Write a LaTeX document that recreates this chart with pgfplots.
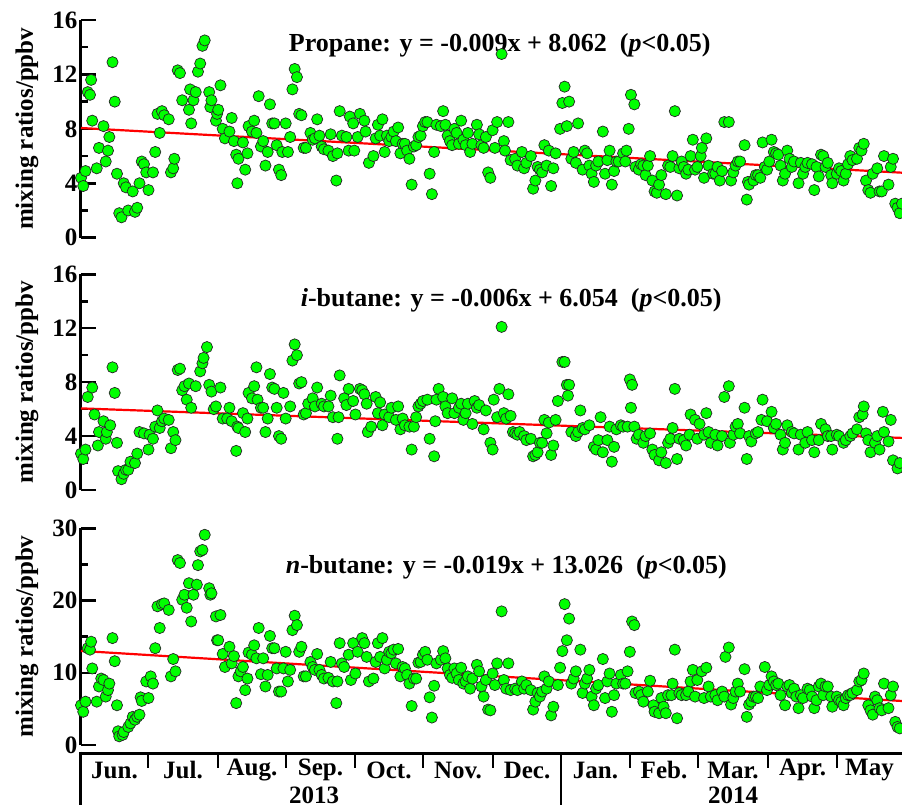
\documentclass[border=0pt]{standalone}
\usepackage{fontspec}
\setmainfont{Liberation Serif}
\usepackage{pgfplots}
\usepackage{pgfplotstable}
\pgfplotsset{compat=1.18}

\pgfplotstableread[row sep=\\]{
day val\\
0 4.4\\ 1 3.8\\ 2 4.9\\ 3 10.7\\ 4 10.5\\ 4.5 11.6\\ 5 8.6\\ 7 5.1\\ 8 6.6\\ 10 8.2\\ 11 5.6\\ 12 6.4\\ 12.6 7.4\\ 14 12.9\\ 15 10.0\\ 16 4.7\\ 17 1.8\\ 18 1.5\\ 19 4.0\\ 20 3.7\\ 21 2.0\\ 23 3.4\\ 24 1.9\\ 25 2.2\\ 26 4.0\\ 27 5.6\\ 28 5.4\\ 29 4.8\\ 30 3.5\\ 32 4.8\\ 33 6.3\\ 34 9.1\\ 35 7.7\\ 36 9.3\\ 37 9.0\\ 39 8.7\\ 40 4.8\\ 41 5.1\\ 41.5 5.8\\ 43 12.3\\ 44 12.1\\ 45 10.1\\ 48 9.4\\ 48.5 10.9\\ 49 8.4\\ 50 10.1\\ 51 10.7\\ 52 12.2\\ 53 12.8\\ 54 14.1\\ 55 14.5\\ 57 10.7\\ 57.5 9.6\\ 58 10.1\\ 60 8.6\\ 60.5 9.1\\ 61 9.4\\ 62 11.2\\ 63 8.0\\ 64 7.3\\ 66 7.8\\ 67 8.8\\ 68 7.1\\ 69 6.1\\ 69.5 4.0\\ 70 5.8\\ 72 7.0\\ 73 5.0\\ 74 6.2\\ 74.5 8.2\\ 76 7.8\\ 77 8.6\\ 78 7.7\\ 79 10.4\\ 80 6.7\\ 81 7.1\\ 82 5.3\\ 83 6.3\\ 84 9.8\\ 85 8.4\\ 86 8.4\\ 87 6.8\\ 88 5.0\\ 89 4.6\\ 89.5 6.3\\ 91 8.4\\ 92 6.3\\ 93 7.4\\ 94 10.9\\ 95 12.4\\ 96 11.8\\ 97 9.1\\ 98 9.0\\ 99 6.6\\ 100 6.6\\ 102 7.7\\ 103 7.2\\ 104 7.3\\ 105 8.7\\ 106 7.5\\ 107 6.7\\ 108 6.5\\ 110 6.4\\ 111 7.6\\ 112 6.0\\ 113.5 4.2\\ 114 6.2\\ 115 9.3\\ 116 7.5\\ 118 7.4\\ 119 6.4\\ 119.5 8.9\\ 121 8.4\\
121.5 6.4\\ 123 7.4\\ 124 9.1\\ 126 8.6\\ 126.5 7.8\\ 128 5.5\\ 130 6.0\\ 131 7.3\\ 132 8.3\\ 133 7.5\\ 134 8.7\\ 135 6.3\\ 136 7.5\\ 137 7.1\\ 138 7.4\\ 139 7.8\\ 140 7.1\\ 141 8.1\\ 142 6.2\\ 143 6.9\\ 144 6.9\\ 145 6.4\\ 146 5.8\\ 147 3.9\\ 148 6.7\\ 149 6.8\\ 150 7.4\\ 151 7.5\\ 152 8.2\\ 153 8.5\\ 154 8.5\\ 155 4.7\\ 156 3.2\\ 157 6.3\\ 158 8.3\\ 160 8.2\\ 161 9.3\\ 162 8.3\\ 163 7.5\\ 164 7.1\\ 165 6.8\\ 166 8.0\\ 167 7.7\\ 168 6.9\\ 169 8.6\\ 170 7.2\\ 171 6.8\\ 172 7.7\\ 173 6.3\\ 174 6.9\\ 176 8.3\\ 177 7.6\\ 178 6.8\\ 179 6.6\\ 180 7.4\\ 181 4.8\\ 182 4.4\\ 183 7.9\\ 184 6.6\\ 185 8.5\\ 187 13.5\\ 188 7.1\\ 188.5 6.4\\ 190 8.5\\ 191 5.7\\ 193 5.8\\ 194 5.3\\ 196 6.3\\ 197 5.1\\ 198 5.5\\ 200 6.0\\ 201 3.6\\ 202 4.2\\ 203 5.2\\ 204 5.0\\ 205 4.8\\ 206 6.8\\ 207 5.3\\ 208 6.4\\ 209 3.8\\ 210 5.1\\ 211 6.2\\ 213 8.0\\ 214 9.9\\ 215 11.1\\ 216 8.2\\ 217 10.0\\ 218 5.8\\ 219 6.3\\ 220 5.5\\ 221 8.4\\ 223 5.0\\ 224 6.4\\ 225 6.2\\ 226 5.3\\ 227 4.7\\ 228 4.1\\ 229 5.3\\ 230 5.6\\ 232 7.8\\ 233 4.7\\ 234 5.7\\ 235 6.4\\ 236 3.9\\ 237 4.9\\ 238 5.6\\ 239 5.6\\
241 6.2\\ 242 5.6\\ 242.5 6.4\\ 243.5 8.0\\ 244.5 10.5\\ 246 9.8\\ 246.5 5.2\\ 248 5.0\\ 249 5.4\\ 250 5.3\\ 251 4.6\\ 252 5.3\\ 253 6.0\\ 254 4.2\\ 255 3.4\\ 256 3.3\\ 257 3.9\\ 258 4.6\\ 260 3.2\\ 261 5.3\\ 262 5.2\\ 263 6.0\\ 264 9.3\\ 265 3.1\\ 266 5.1\\ 267 5.6\\ 268 5.2\\ 269 4.7\\ 270 5.0\\ 271 6.0\\ 272 7.2\\ 273 5.0\\ 274 5.2\\ 275.5 6.0\\ 276 6.6\\ 277 4.4\\ 278 7.3\\ 279 5.3\\ 281 4.7\\ 282 4.7\\ 283 5.2\\ 284 4.2\\ 285 4.9\\ 286 8.5\\ 288 8.5\\ 289 4.2\\ 290 4.8\\ 291 5.3\\ 292 5.6\\ 293 5.6\\ 295 6.8\\ 296 2.8\\ 296.5 4.1\\ 297 3.9\\ 299 4.2\\ 300 4.6\\ 301 4.6\\ 302 4.4\\ 303 7.0\\ 304 5.2\\ 305 5.0\\ 306 5.6\\ 307 7.2\\ 308 6.3\\ 309 6.2\\ 310 6.1\\ 311 5.3\\ 312 4.2\\ 313 4.7\\ 314 6.4\\ 315 5.8\\ 316 5.2\\ 317 5.6\\ 319 4.0\\ 320 5.5\\ 321 4.7\\ 322 5.2\\ 323 5.5\\ 325 5.4\\ 326 3.5\\ 327 5.2\\ 328 4.5\\ 329 6.1\\ 330 6.0\\ 331 5.2\\ 332 5.5\\ 333.5 4.6\\ 334 4.0\\ 336 4.7\\ 337 5.1\\ 338 4.9\\ 339 4.2\\ 340 4.7\\ 341 5.4\\ 342 6.0\\ 343 5.7\\ 345 5.8\\ 346 6.6\\ 347 6.4\\ 348 6.9\\ 349 4.2\\ 350 3.5\\ 351 3.3\\ 352 4.7\\ 354 5.1\\ 355 3.4\\ 356 3.4\\ 357 6.0\\ 359 3.9\\ 360 5.2\\ 361 5.8\\ 362 2.5\\ 363 2.2\\ 364 1.8\\ 365 2.5\\
}\propane

\pgfplotstableread[row sep=\\]{
day val\\
0 2.7\\ 1 2.3\\ 2 3.0\\ 3 6.9\\ 5 7.6\\ 6 5.6\\ 7.5 3.3\\ 8 4.3\\ 10 5.1\\ 11 3.8\\ 11.5 4.3\\ 13 4.8\\ 14 9.1\\ 15 7.2\\ 16 3.5\\ 16.5 1.4\\ 18 0.8\\ 19 1.2\\ 20 1.5\\ 21 1.5\\ 22 2.1\\ 24 2.0\\ 25 2.7\\ 26 4.3\\ 28 4.2\\ 30 3.0\\ 30.5 4.1\\ 32 3.8\\ 33 4.7\\ 34 5.9\\ 35 4.6\\ 36 5.1\\ 37 5.3\\ 39 5.2\\ 40 3.1\\ 41 4.3\\ 42 3.7\\ 43 8.9\\ 44 9.0\\ 45 7.4\\ 46 7.7\\ 47 6.7\\ 48 7.9\\ 49 6.1\\ 51 7.7\\ 53 8.8\\ 54 9.4\\ 54.5 9.8\\ 56 10.6\\ 57 7.8\\ 58 7.3\\ 59 6.0\\ 60 6.2\\ 62 7.6\\ 63 5.3\\ 65 5.3\\ 66 6.1\\ 67 5.1\\ 69 2.9\\ 69.5 4.7\\ 70 4.6\\ 72 5.7\\ 73 4.3\\ 74 5.3\\ 74.5 7.2\\ 76 6.8\\ 77 7.7\\ 78 9.1\\ 78.5 6.7\\ 80 6.1\\ 81 6.1\\ 82 4.3\\ 83 5.3\\ 84 8.6\\ 85 7.6\\ 86 7.5\\ 87 6.1\\ 88 4.0\\ 89 3.8\\ 90 7.2\\ 91 5.3\\ 93 6.2\\ 94 9.6\\ 95 10.8\\ 96 10.0\\ 97 7.9\\ 98 8.0\\ 99 5.6\\ 100 5.7\\ 101 6.4\\ 103 6.8\\ 104 6.2\\ 105 7.6\\ 107 6.4\\ 108 6.2\\ 110 6.2\\ 111 7.0\\ 112 5.4\\ 114 3.8\\ 114.5 5.4\\ 115 8.5\\ 117 6.8\\ 118 6.3\\ 119 7.5\\ 121 6.6\\ 122 5.6\\ 124 7.5\\ 125 7.4\\ 126 7.1\\ 127 6.4\\ 127.5 4.3\\ 129 4.7\\ 131 6.9\\ 132 5.7\\ 133 6.5\\ 134 4.8\\ 135 5.6\\ 137 5.4\\ 138 6.1\\ 140 5.2\\ 141 6.2\\ 142 4.5\\ 143 5.3\\ 144 4.8\\ 146 4.7\\ 147 3.0\\ 148 4.7\\ 149 5.4\\ 150 6.2\\ 151 6.4\\ 152 6.6\\ 154 6.7\\ 155 3.8\\ 157 2.5\\ 157.5 5.1\\ 158 6.7\\ 159 7.5\\ 161 6.9\\ 162 6.2\\ 163 5.7\\
165 6.8\\ 166 5.7\\ 168 6.1\\ 169 6.4\\ 170 5.2\\ 171 5.7\\ 172 6.4\\ 174 4.9\\ 175 6.6\\ 176 6.1\\ 177 6.3\\ 179 4.5\\ 180 5.9\\ 182 3.5\\ 183 3.0\\ 183.5 6.7\\ 185 5.4\\ 186 7.5\\ 187 12.1\\ 188 5.7\\ 189 5.3\\ 190 7.1\\ 191 5.5\\ 192 4.3\\ 193 4.2\\ 194 4.1\\ 195 4.3\\ 197 4.0\\ 198 3.7\\ 200 3.8\\ 201 2.5\\ 202 2.6\\ 203 2.8\\ 204 3.5\\ 205 3.5\\ 206 5.2\\ 207 4.2\\ 208 5.0\\ 209 2.6\\ 210 3.3\\ 211 5.2\\ 212 6.6\\ 214 9.5\\ 215 9.5\\ 216 7.8\\ 216.5 7.0\\ 217 7.8\\ 218 4.3\\ 220 4.0\\ 221 4.3\\ 222 5.9\\ 223 4.6\\ 224 4.5\\ 226 4.8\\ 228 3.2\\ 229 3.0\\ 230 3.7\\ 231 5.4\\ 232 2.8\\ 234 3.7\\ 235 4.7\\ 236 2.1\\ 237 3.2\\ 238 4.5\\ 240 4.8\\ 241 4.7\\ 243 4.7\\ 244 8.2\\ 244.5 6.1\\ 245 7.8\\ 246 4.7\\ 247 3.8\\ 248 4.1\\ 250 3.5\\ 251 4.0\\ 253 4.2\\ 254 3.0\\ 255 2.6\\ 257 2.2\\ 258 2.8\\ 260 2.0\\ 261 3.5\\ 262 3.8\\ 263 4.6\\ 264 7.5\\ 265 2.3\\ 266 3.8\\ 268 3.7\\ 269 3.3\\ 270.5 4.1\\ 271 5.6\\ 273 5.2\\ 274 3.8\\ 275 4.9\\ 277 4.1\\ 278 5.7\\ 279 4.3\\ 280 3.5\\ 282 4.1\\ 283 3.3\\ 285 4.0\\ 286 6.9\\ 288 7.7\\ 288.5 3.5\\ 290 4.1\\ 291 4.7\\ 292 4.9\\ 293 4.2\\ 295 6.1\\ 296 2.3\\ 297 4.0\\ 298 3.6\\ 300 4.2\\ 301 4.3\\ 302.5 5.2\\ 303 6.7\\ 305 5.1\\ 307 5.8\\ 308 4.6\\ 309 4.9\\ 311 4.1\\ 312 3.0\\ 313 3.5\\ 314 4.8\\ 316 4.3\\ 317 4.2\\ 319 3.0\\ 320 4.1\\ 322 3.5\\ 323 4.3\\ 325 3.7\\ 326 2.8\\ 328 3.7\\ 329 4.9\\ 331 4.5\\ 332 4.0\\ 333.5 4.0\\ 334 3.0\\ 336 4.1\\ 337 4.0\\ 339 3.5\\ 340 3.7\\ 342 4.0\\ 343 4.2\\ 345 4.5\\ 346 5.4\\ 347.5 5.6\\ 348 6.2\\ 349 4.2\\ 350 3.7\\ 351 2.8\\ 353 3.5\\ 354 4.0\\ 355 3.0\\ 356.5 5.8\\ 357 4.3\\ 359 3.6\\ 360 5.2\\ 361 2.2\\ 363 1.6\\ 364 2.0\\
}\ibutane

\pgfplotstableread[row sep=\\]{
day val\\
0 5.5\\ 1 4.6\\ 2 6.0\\ 3 13.4\\ 4 13.2\\ 4.5 14.3\\ 5 10.6\\ 7 6.0\\ 8 8.1\\ 9 9.2\\ 10 9.0\\ 11 6.7\\ 12 7.6\\ 12.6 8.5\\ 14 14.8\\ 15 11.6\\ 16 5.5\\ 16.5 1.9\\ 17 1.2\\ 18.5 1.4\\ 19 1.8\\ 21 2.5\\ 22 3.0\\ 23 3.9\\ 24 3.5\\ 25 3.9\\ 26 4.2\\ 26.5 6.6\\ 27 6.1\\ 29 8.8\\ 30 6.5\\ 31 9.5\\ 32 8.5\\ 33 13.4\\ 34 19.2\\ 35 16.2\\ 36 19.5\\ 37 19.6\\ 39 18.7\\ 40 9.5\\ 41 11.9\\ 42 10.2\\ 43 25.6\\ 44 25.2\\ 45 20.1\\ 46 20.8\\ 47 19.0\\ 48 22.4\\ 49 17.1\\ 50 20.8\\ 51.5 22.2\\ 52 24.9\\ 53 26.8\\ 54 27.0\\ 55 29.1\\ 57 21.7\\ 57.5 20.8\\ 58 21.0\\ 60 17.8\\ 60.5 14.5\\ 61 14.5\\ 62 18.0\\ 63 12.6\\ 64 10.8\\ 66 13.6\\ 67 11.3\\ 68 12.3\\ 69 5.8\\ 70 9.5\\ 71 10.2\\ 72 10.8\\ 73 7.6\\ 74 9.2\\ 74.5 12.8\\ 76 12.5\\ 77 13.8\\ 78 12.0\\ 79 16.2\\ 80 9.8\\ 81 12.0\\ 82 8.1\\ 83 9.7\\ 84 15.1\\ 85 13.4\\ 86 13.4\\ 87 10.6\\ 88 7.4\\ 89 7.4\\ 90 10.6\\ 91 12.9\\ 92 8.8\\ 93 10.4\\ 94 15.9\\ 95 17.9\\ 96 16.6\\ 97 12.9\\ 98 13.6\\ 99 9.5\\ 100 9.5\\ 102 11.5\\ 103 10.8\\ 104 10.4\\ 105 12.6\\ 106 10.4\\ 107 9.7\\ 108 9.2\\ 110 9.3\\ 111 11.5\\ 112 8.8\\ 113.5 5.8\\ 114 8.8\\ 115 14.1\\ 116 11.3\\ 117 10.8\\ 119 12.5\\ 120 9.0\\ 121 14.1\\
122 9.9\\ 123 12.9\\ 125 14.8\\ 126 14.1\\ 127 12.2\\ 128 8.8\\ 130 9.2\\ 131 11.5\\ 132 14.1\\ 133 12.2\\ 134 14.8\\ 135 10.6\\ 136 11.8\\ 137 12.9\\ 138 12.7\\ 139 13.2\\ 140 11.3\\ 141 13.3\\ 142 9.5\\ 143 10.8\\ 144 10.6\\ 145 9.7\\ 146 8.5\\ 147 5.4\\ 148 9.2\\ 149 9.2\\ 150 11.4\\ 151 11.5\\ 152 12.5\\ 153 12.9\\ 154 11.8\\ 155 6.6\\ 156 3.8\\ 157 8.2\\ 158 11.3\\ 160 11.8\\ 161 13.0\\ 162 12.0\\ 163 10.6\\ 164 9.7\\ 165 9.3\\ 166 10.6\\ 167 9.9\\ 168 9.0\\ 169 10.7\\ 170 8.5\\ 171 8.8\\ 172 9.5\\ 173 7.8\\ 174 9.2\\ 176 11.1\\ 177 10.2\\ 178 8.1\\ 179 6.7\\ 180 9.0\\ 181 4.9\\ 182 4.8\\ 183 9.9\\ 184 8.3\\ 185 11.3\\ 187 18.5\\ 188 9.0\\ 189 7.8\\ 190 11.3\\ 191 7.6\\ 193 7.8\\ 194 7.6\\ 196 8.8\\ 197 7.8\\ 198 8.3\\ 200 7.6\\ 201 4.9\\ 202 6.0\\ 203 7.2\\ 204 6.7\\ 205 7.4\\ 206 9.5\\ 207 7.8\\ 208 8.8\\ 209 4.1\\ 210 5.3\\ 212 8.3\\ 213 10.7\\ 214 13.0\\ 215 19.5\\ 216 14.5\\ 217 17.5\\ 218 8.5\\ 219 9.2\\ 220 10.2\\ 222 13.2\\ 223 7.2\\ 224 8.5\\ 225 9.2\\ 226 10.4\\ 227 6.7\\ 228 5.5\\ 229 7.8\\ 230 8.3\\ 232 11.9\\ 233 6.5\\ 234 8.8\\ 235 9.9\\ 236 4.6\\ 237 6.9\\ 238 8.5\\ 240 9.7\\ 241 8.5\\ 242 8.5\\ 243 10.2\\
244 12.9\\ 245 17.1\\ 246 16.6\\ 246.5 7.2\\ 248 7.4\\ 249 6.9\\ 250 6.0\\ 252 7.4\\ 253 8.9\\ 254.5 5.5\\ 255 4.6\\ 257 4.4\\ 258 6.5\\ 259 5.3\\ 260 4.4\\ 261 6.9\\ 262.5 6.9\\ 263 8.5\\ 264 13.2\\ 265 3.7\\ 266 7.2\\ 267 6.9\\ 269 6.9\\ 270 7.4\\ 271 8.8\\ 272 10.4\\ 273 6.7\\ 274 9.0\\ 276 10.2\\ 277 6.5\\ 278 10.7\\ 279 8.1\\ 280 6.7\\ 282 6.9\\ 283 6.2\\ 285 7.4\\ 286 6.7\\ 286.5 12.2\\ 288 13.5\\ 289 5.6\\ 290 6.5\\ 291 7.4\\ 292 8.5\\ 293 7.4\\ 295 10.5\\ 296 3.9\\ 297 5.6\\ 298 6.0\\ 299 6.7\\ 300 6.7\\ 301 6.5\\ 302 8.1\\ 304 10.8\\ 305 7.6\\ 306 8.3\\ 307 9.5\\ 308 8.8\\ 309 8.3\\ 310 8.5\\ 311 6.9\\ 313 5.5\\ 314 8.1\\ 315 8.3\\ 316 7.2\\ 317 7.8\\ 318 6.7\\ 319 5.1\\ 320 6.9\\ 321 6.5\\ 323 7.8\\ 324 7.6\\ 325 6.7\\ 326 5.1\\ 327 6.2\\ 328 8.1\\ 329 8.5\\ 330 6.9\\ 331 8.1\\ 332 8.1\\ 333.5 6.7\\ 334 5.3\\ 336 6.7\\ 337 6.2\\ 338 6.0\\ 339 5.5\\ 340 6.5\\ 341 6.9\\ 342 6.9\\ 343 7.2\\ 345 7.6\\ 346 8.8\\ 347 9.0\\ 348 9.9\\ 350 5.5\\ 351 4.8\\ 352 4.2\\ 353 6.7\\ 354 6.2\\ 355 5.1\\ 356 4.8\\ 357 8.5\\ 359 5.1\\ 360 6.9\\ 361 8.1\\ 362 3.2\\ 363 2.5\\ 364 2.3\\
}\nbutane

\newcommand{\bigfont}{\fontsize{25}{27}\selectfont\bfseries}
\newcommand{\titlefont}{\fontsize{26}{28}\selectfont\bfseries}

\pgfplotsset{
  panel/.style={
    scale only axis, width=821pt, xmin=0, xmax=365, anchor=south west,
    axis x line=none, axis y line=left,
    y axis line style={-, line width=3pt},
    tick align=inside, major tick length=15pt, minor tick length=7pt,
    every tick/.style={black, line width=2.5pt},
    yticklabel style={font=\bigfont},
    /pgf/number format/assume math mode=true,
    clip=false,
    ylabel={mixing ratios/ppbv},
    every axis y label/.style={at={(axis description cs:-0.0658,0.5)}, rotate=90, anchor=center, font=\bigfont},
  },
  pts/.style={only marks, mark=*, mark size=5.6pt, mark options={fill=green, draw=black!85, line width=0.7pt}},
  trend/.style={red, line width=2.2pt, no marks},
}

\begin{document}
\begin{tikzpicture}
\useasboundingbox (0,0) rectangle (902pt,809pt);
\clip (0,0) rectangle (902pt,809pt);

% Propane
\begin{axis}[panel, at={(81pt,571.3pt)}, height=217.7pt, ymin=0, ymax=16,
  ytick={0,4,8,12,16}, minor ytick={2,6,10,14}]
  \addplot[pts] table[x=day,y=val] {\propane};
  \addplot[trend] coordinates {(0,8.062) (365,4.777)};
  \node[font=\titlefont] at (axis description cs:0.510,0.885) {Propane: y = -0.009x + 8.062~~(\textit{p}<0.05)};
\end{axis}

% i-butane
\begin{axis}[panel, at={(81pt,319pt)}, height=215.7pt, ymin=0, ymax=16,
  ytick={0,4,8,12,16}, minor ytick={2,6,10,14}]
  \addplot[pts] table[x=day,y=val] {\ibutane};
  \addplot[trend] coordinates {(0,6.054) (365,3.864)};
  \node[font=\titlefont] at (axis description cs:0.524,0.88) {\textit{i}-butane: y = -0.006x + 6.054~~(\textit{p}<0.05)};
\end{axis}

% n-butane
\begin{axis}[panel, at={(81pt,64pt)}, height=216.7pt, ymin=0, ymax=30,
  ytick={0,10,20,30}, minor ytick={5,15,25}]
  \addplot[pts] table[x=day,y=val] {\nbutane};
  \addplot[trend] coordinates {(0,13.026) (365,6.091)};
  \node[font=\titlefont] at (axis description cs:0.518,0.82) {\textit{n}-butane: y = -0.019x + 13.026~~(\textit{p}<0.05)};
\end{axis}

% month axis
\draw[line width=3pt] (79pt,56pt) -- (902pt,56pt);
\draw[line width=3pt] (80.5pt,57.5pt) -- (80.5pt,4pt);
\draw[line width=2.5pt] (561pt,56pt) -- (561pt,4pt);
\foreach \x in {148,218,286,355,423,493,630,698,768,837}
  \draw[line width=2.5pt] (\x pt,56pt) -- (\x pt,41pt);
\foreach \x/\m in {114.5/Jun.,183/Jul.,252/Aug.,320.5/Sep.,389/Oct.,458/Nov.,527/Dec.,595.5/Jan.,664/Feb.,733/Mar.,802.5/Apr.,869.5/May}
  \node[font=\bigfont] at (\x pt,39pt) {\m};
\node[font=\bigfont] at (314pt,14pt) {2013};
\node[font=\bigfont] at (733pt,14pt) {2014};
\end{tikzpicture}
\end{document}
